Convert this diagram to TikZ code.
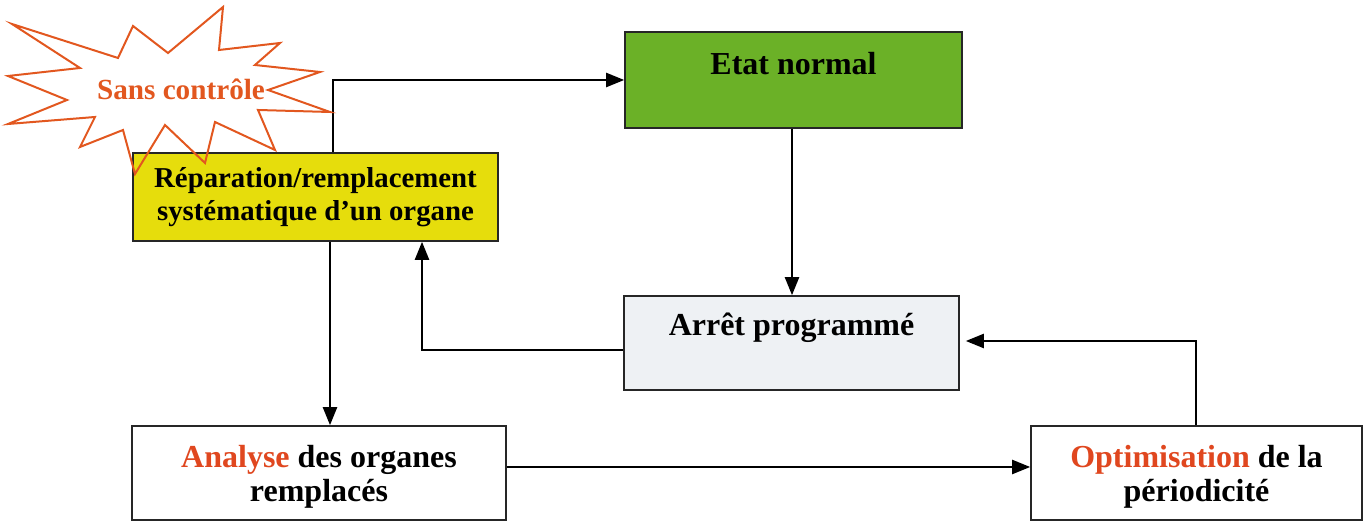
\documentclass[tikz,border=0pt]{standalone}
\usepackage{fontspec}
\setmainfont{Liberation Serif}
\usetikzlibrary{arrows.meta}
\definecolor{starc}{HTML}{E2571F}
\definecolor{redt}{HTML}{E0471F}
\definecolor{greenf}{HTML}{6BB127}
\definecolor{yellowf}{HTML}{E6DD0C}
\definecolor{greyf}{HTML}{EEF1F4}
\begin{document}
\begin{tikzpicture}[x=0.5pt,y=-0.5pt,
  box/.style={draw=black!85, line width=0.8pt, inner sep=0pt, align=center,
    font=\fontsize{16}{17}\selectfont\bfseries},
  txt/.style={inner sep=0pt, align=center, font=\fontsize{16}{17}\selectfont\bfseries},
  arr/.style={line width=1.1pt, -{Triangle[length=9pt,width=7pt]}},
  ln/.style={line width=1pt}]
\useasboundingbox (0,0) rectangle (1365,522);
% boxes
\node[box, fill=yellowf, minimum width=182.5pt, minimum height=44pt,
  font=\fontsize{14.4}{16.5}\selectfont\bfseries] (rep) at (315.5,197)
  {Réparation/remplacement\\systématique d’un organe};
\node[box, fill=greenf, minimum width=168.5pt, minimum height=48pt] (etat) at (793.5,80) {};
\node[txt] (etattxt) at (793.5,64) {Etat normal};
\node[box, fill=greyf, minimum width=167.5pt, minimum height=47pt] (arret) at (791.5,343) {};
\node[txt] (arrettxt) at (791.5,328) {Arrêt programmé};
\node[box, fill=white, minimum width=187pt, minimum height=47pt] (ana) at (319,473) {};
\node[txt] (anatxt) at (319,477) {\textcolor{redt}{Analyse} des organes\\remplacés};
\node[box, fill=white, minimum width=165.5pt, minimum height=47pt] (opt) at (1196.5,473) {};
\node[txt] (opttxt) at (1196.5,477) {\textcolor{redt}{Optimisation} de la\\périodicité};
% helper coordinates
\coordinate (c1) at (333,80);
\coordinate (c2) at (792,0);
\coordinate (c3) at (422,350);
\coordinate (c4) at (330,0);
\coordinate (c5) at (0,467);
\coordinate (c6) at (1196,341);
% connectors
\draw[arr] (rep.north -| c1) -- (c1) -- (etat.west |- c1);
\draw[arr] (etat.south -| c2) -- (arret.north -| c2);
\draw[arr] (arret.west |- c3) -- (c3) -- (rep.south -| c3);
\draw[arr] (rep.south -| c4) -- (ana.north -| c4);
\draw[arr] (ana.east |- c5) -- (opt.west |- c5);
\draw[arr, shorten >=3pt] (opt.north -| c6) -- (c6) -- (arret.east |- c6);
% star
\draw[starc, line width=1pt, line join=miter]
  (12,24) -- (118,58) -- (133,26) -- (168,53) -- (223,7) -- (219,50) -- (280,43)
  -- (255,65) -- (320,72) -- (268,90) -- (330,112) -- (258,110) -- (275,150)
  -- (215,122) -- (205,163) -- (165,125) -- (135,174) -- (123,130) -- (80,147)
  -- (95,117) -- (8,124) -- (67,100) -- (8,76) -- (80,68) -- cycle;
\node[txt, text=starc, font=\fontsize{14.6}{16}\selectfont\bfseries] (star) at (181,89) {Sans contrôle};
\end{tikzpicture}
\end{document}
